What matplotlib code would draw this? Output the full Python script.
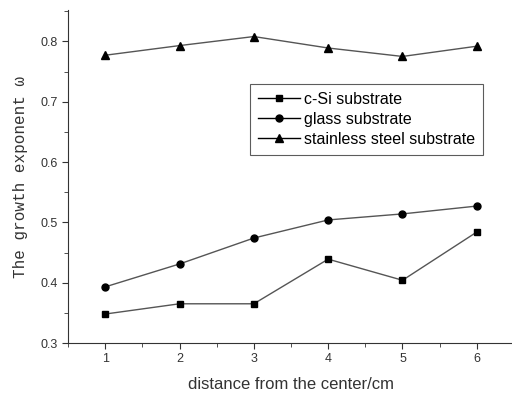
import matplotlib
matplotlib.use("Agg")
import matplotlib.pyplot as plt
from matplotlib.ticker import MultipleLocator

x = [1, 2, 3, 4, 5, 6]
csi = [0.348, 0.365, 0.365, 0.439, 0.404, 0.484]
glass = [0.393, 0.431, 0.474, 0.504, 0.514, 0.527]
steel = [0.777, 0.793, 0.808, 0.789, 0.775, 0.792]
labels = ["c-Si substrate", "glass substrate", "stainless steel substrate"]

fig = plt.figure(figsize=(5.12, 3.94), dpi=100)
ax = fig.add_axes([68/512, 1-343/394, 446/512, 333/394])

lc = "#555555"
ax.plot(x, csi, color=lc, lw=1, marker="s", ms=4.5, mfc="black", mec="black", label=labels[0])
ax.plot(x, glass, color=lc, lw=1, marker="o", ms=5, mfc="black", mec="black", label=labels[1])
ax.plot(x, steel, color=lc, lw=1, marker="^", ms=6, mfc="black", mec="black", label=labels[2])

ax.set_xlim(0.5, 6.5)
ax.set_ylim(0.3, 0.852)
ax.set_xticks(x)
ax.set_yticks([0.3, 0.4, 0.5, 0.6, 0.7, 0.8])
ax.xaxis.set_minor_locator(MultipleLocator(0.5))
ax.yaxis.set_minor_locator(MultipleLocator(0.05))
ax.spines["top"].set_visible(False)
ax.spines["right"].set_visible(False)
for s in ("left", "bottom"):
    ax.spines[s].set_color("#333333")
ax.tick_params(which="major", direction="out", length=4, labelsize=9, colors="#333333")
ax.tick_params(which="minor", direction="out", length=3, colors="#333333")
for t in ax.get_xticklabels() + ax.get_yticklabels():
    t.set_fontfamily("Liberation Sans")

ax.set_xlabel("distance from the center/cm", fontsize=12, fontfamily="Liberation Sans", color="#333333", labelpad=8)
ax.set_ylabel("The growth exponent ω", fontsize=11.5, fontfamily="Liberation Mono", color="#333333", labelpad=9)

leg = ax.legend(loc="upper left", bbox_to_anchor=((250-68)/446, (343-84)/333), frameon=True,
                fancybox=False, edgecolor="#333333", prop={"family": "Liberation Sans", "size": 11.5},
                handlelength=2.6, borderpad=0.5, labelspacing=0.3, handletextpad=0.3, borderaxespad=0)
leg.get_frame().set_linewidth(0.8)
for h in leg.legend_handles:
    h.set_color("black")

fig.savefig("out.png", dpi=100)
